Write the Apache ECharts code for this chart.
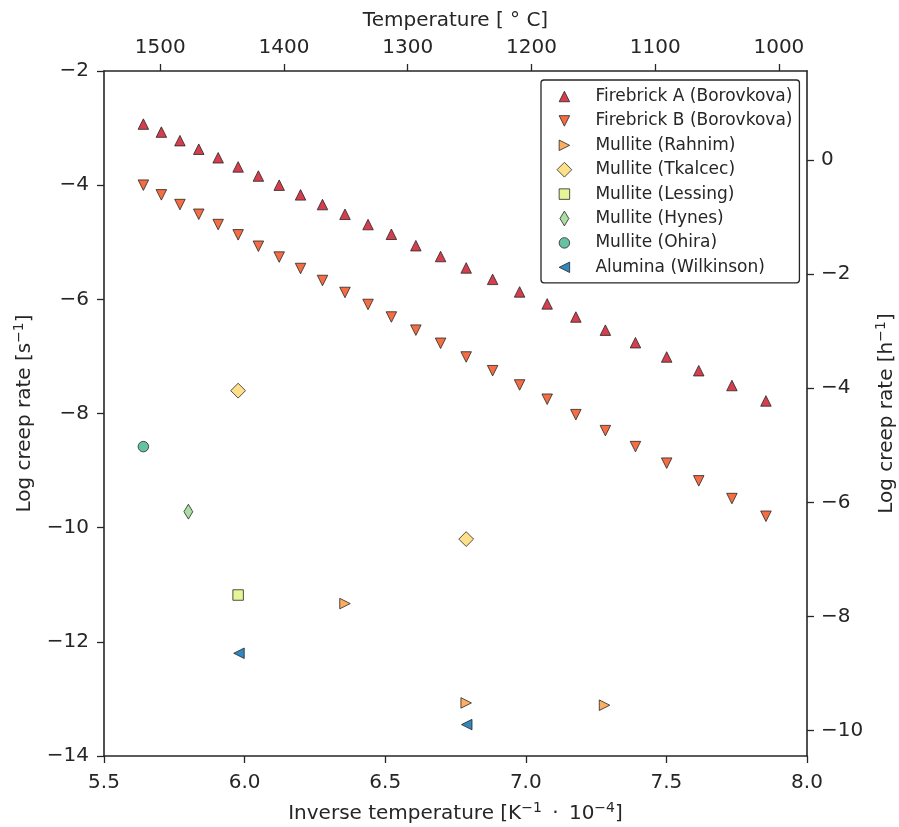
<!DOCTYPE html>
<html>
<head>
<meta charset="utf-8">
<script src="https://cdn.jsdelivr.net/npm/echarts@6/dist/echarts.min.js"></script>
<style>
  html, body { margin: 0; padding: 0; background: #ffffff; }
  #chart { width: 899px; height: 827px; }
</style>
</head>
<body>
<div id="chart"></div>
<script>
// ---- Data: inverse temperature [1e4/K] and log10 creep rate [1/s] ----
const firebrickX = [5.640, 5.704, 5.770, 5.837, 5.906, 5.977, 6.049, 6.123, 6.199, 6.277,
                    6.357, 6.439, 6.522, 6.609, 6.697, 6.788, 6.882, 6.978, 7.076, 7.178,
                    7.283, 7.390, 7.501, 7.615, 7.733, 7.854];
const firebrickAY = [-2.93, -3.07, -3.22, -3.37, -3.52, -3.68, -3.84, -4.00, -4.17, -4.34,
                     -4.51, -4.69, -4.86, -5.06, -5.25, -5.45, -5.65, -5.87, -6.08, -6.31,
                     -6.54, -6.76, -7.01, -7.25, -7.51, -7.78];
const firebrickBY = [-4.00, -4.17, -4.34, -4.51, -4.69, -4.87, -5.07, -5.26, -5.46, -5.67,
                     -5.88, -6.09, -6.31, -6.54, -6.77, -7.01, -7.25, -7.50, -7.75, -8.02,
                     -8.30, -8.58, -8.87, -9.18, -9.49, -9.80];
const rahnimX = [6.357, 6.788, 7.280];
const rahnimY = [-11.33, -13.07, -13.11];
const tkalcecX = [5.977, 6.788];
const tkalcecY = [-7.60, -10.20];
const lessingX = [5.977];
const lessingY = [-11.18];
const hynesX = [5.800];
const hynesY = [-9.72];
const ohiraX = [5.640];
const ohiraY = [-8.58];
const wilkinsonX = [5.980, 6.790];
const wilkinsonY = [-12.20, -13.45];

// Tick labels
const bottomTicks = [5.5, 6.0, 6.5, 7.0, 7.5, 8.0];
const topTicks = [1500, 1400, 1300, 1200, 1100, 1000];     // temperature, degC
const rightTicks = [0, -2, -4, -6, -8, -10];                // log creep rate per hour

// ---- Styling ----
const FONT = 'DejaVu Sans';
const INK = '#262626';
const LOG_SECONDS_PER_HOUR = Math.log10(3600);

// Marker outlines share one 16x16 box so plot markers and legend icons keep relative sizes.
const BOX = 'M-8,-8M8,8';
const SYM = {
  up:      'path://' + BOX + 'M0,-5.25L5.25,5.25L-5.25,5.25Z',
  down:    'path://' + BOX + 'M-5.25,-5.25L5.25,-5.25L0,5.25Z',
  right:   'path://' + BOX + 'M-5.25,-5.25L5.25,0L-5.25,5.25Z',
  left:    'path://' + BOX + 'M5.25,-5.25L-5.25,0L5.25,5.25Z',
  diamond: 'path://' + BOX + 'M0,-7.4L7.4,0L0,7.4L-7.4,0Z',
  thin:    'path://' + BOX + 'M0,-7.4L4.45,0L0,7.4L-4.45,0Z',
  square:  'path://' + BOX + 'M-5.25,-5.25L5.25,-5.25L5.25,5.25L-5.25,5.25Z',
  circle:  'path://' + BOX + 'M5.25,0A5.25,5.25,0,1,1,-5.25,0A5.25,5.25,0,1,1,5.25,0Z'
};

function pairs(xs, ys) { return xs.map((x, i) => [x, ys[i]]); }
function minus(v) { return String(v).replace('-', '\u2212'); }

function scatter(name, xs, ys, symbol, color) {
  return {
    name: name,
    type: 'scatter',
    xAxisIndex: 0,
    yAxisIndex: 0,
    data: pairs(xs, ys),
    symbol: symbol,
    symbolSize: 16,
    itemStyle: { color: color, borderColor: INK, borderWidth: 0.8, opacity: 1 },
    emphasis: { disabled: true }
  };
}

const axisLineStyle = { show: true, onZero: false, lineStyle: { color: INK, width: 1.6 } };
const tickStyle = { show: true, inside: false, length: 7, lineStyle: { color: INK, width: 1.3 } };
const labelFont = { fontFamily: FONT, fontSize: 20, color: INK };

// Axis titles with raised exponents
const nameFont = {
  fontFamily: FONT, fontSize: 20, color: INK,
  rich: {
    n: { fontFamily: FONT, fontSize: 20, color: INK, lineHeight: 26 },
    s: { fontFamily: FONT, fontSize: 14, color: INK, lineHeight: 12, verticalAlign: 'top' }
  }
};

const chart = echarts.init(document.getElementById('chart'), null, { renderer: 'canvas' });

chart.setOption({
  animation: false,
  backgroundColor: '#ffffff',
  textStyle: { fontFamily: FONT },
  grid: { left: 104, right: 92, top: 71, bottom: 71, containLabel: false, outerBoundsMode: 'none' },
  legend: {
    orient: 'vertical',
    left: 541,
    top: 80,
    itemWidth: 16,
    itemHeight: 16,
    itemGap: 7.4,
    padding: [8, 7, 7, 15],
    borderColor: INK,
    borderWidth: 1.3,
    borderRadius: 3,
    backgroundColor: '#ffffff',
    selectedMode: false,
    itemStyle: { borderColor: INK, borderWidth: 0.8 },
    formatter: name => '{t|' + name + '}',
    textStyle: {
      fontFamily: FONT, fontSize: 17, color: INK,
      rich: { t: { fontFamily: FONT, fontSize: 17, color: INK, padding: [0, 0, 0, 18] } }
    }
  },
  xAxis: [
    {
      type: 'value',
      position: 'bottom',
      min: 5.5,
      max: 8.0,
      interval: 0.5,
      name: '{n|Inverse temperature [K}{s|\u22121}{n|\u2009 \u00B7 \u200910}{s|\u22124}{n|]}',
      nameLocation: 'middle',
      nameGap: 45,
      nameTextStyle: nameFont,
      axisLine: axisLineStyle,
      axisTick: tickStyle,
      axisLabel: Object.assign({ margin: 17, formatter: v => v.toFixed(1) }, labelFont),
      splitLine: { show: false }
    },
    {
      type: 'value',
      position: 'top',
      inverse: true,
      // linear temperature scale: 1500 degC at 5.7, 1000 degC at 7.9
      min: 1000 - (8.0 - 7.9) / 0.0044,
      max: 1500 + (5.7 - 5.5) / 0.0044,
      name: 'Temperature [ \u00B0 C]',
      nameLocation: 'middle',
      nameGap: 40,
      nameTextStyle: { fontFamily: FONT, fontSize: 20, color: INK },
      axisLine: axisLineStyle,
      axisTick: Object.assign({ customValues: topTicks }, tickStyle),
      axisLabel: Object.assign({ margin: 13, customValues: topTicks, formatter: v => minus(v) }, labelFont),
      splitLine: { show: false }
    }
  ],
  yAxis: [
    {
      type: 'value',
      position: 'left',
      min: -14,
      max: -2,
      interval: 2,
      name: '{n|Log creep rate [s}{s|\u22121}{n|]}',
      nameLocation: 'middle',
      nameRotate: 90,
      nameGap: 66,
      nameTextStyle: nameFont,
      axisLine: axisLineStyle,
      axisTick: tickStyle,
      axisLabel: Object.assign({ margin: 15, formatter: v => minus(v) }, labelFont),
      splitLine: { show: false }
    },
    {
      type: 'value',
      position: 'right',
      min: -14 + LOG_SECONDS_PER_HOUR,
      max: -2 + LOG_SECONDS_PER_HOUR,
      name: '{n|Log creep rate [h}{s|\u22121}{n|]}',
      nameLocation: 'middle',
      nameRotate: 90,
      nameGap: 64,
      nameTextStyle: nameFont,
      axisLine: axisLineStyle,
      axisTick: Object.assign({ customValues: rightTicks }, tickStyle),
      axisLabel: Object.assign({ margin: 14, customValues: rightTicks, formatter: v => minus(v) }, labelFont),
      splitLine: { show: false }
    }
  ],
  series: [
    scatter('Firebrick A (Borovkova)', firebrickX, firebrickAY, SYM.up, '#d53e4f'),
    scatter('Firebrick B (Borovkova)', firebrickX, firebrickBY, SYM.down, '#f46d43'),
    scatter('Mullite (Rahnim)', rahnimX, rahnimY, SYM.right, '#fdae61'),
    scatter('Mullite (Tkalcec)', tkalcecX, tkalcecY, SYM.diamond, '#fee08b'),
    scatter('Mullite (Lessing)', lessingX, lessingY, SYM.square, '#e6f598'),
    scatter('Mullite (Hynes)', hynesX, hynesY, SYM.thin, '#abdda4'),
    scatter('Mullite (Ohira)', ohiraX, ohiraY, SYM.circle, '#66c2a5'),
    scatter('Alumina (Wilkinson)', wilkinsonX, wilkinsonY, SYM.left, '#3288bd')
  ]
});
</script>
</body>
</html>
